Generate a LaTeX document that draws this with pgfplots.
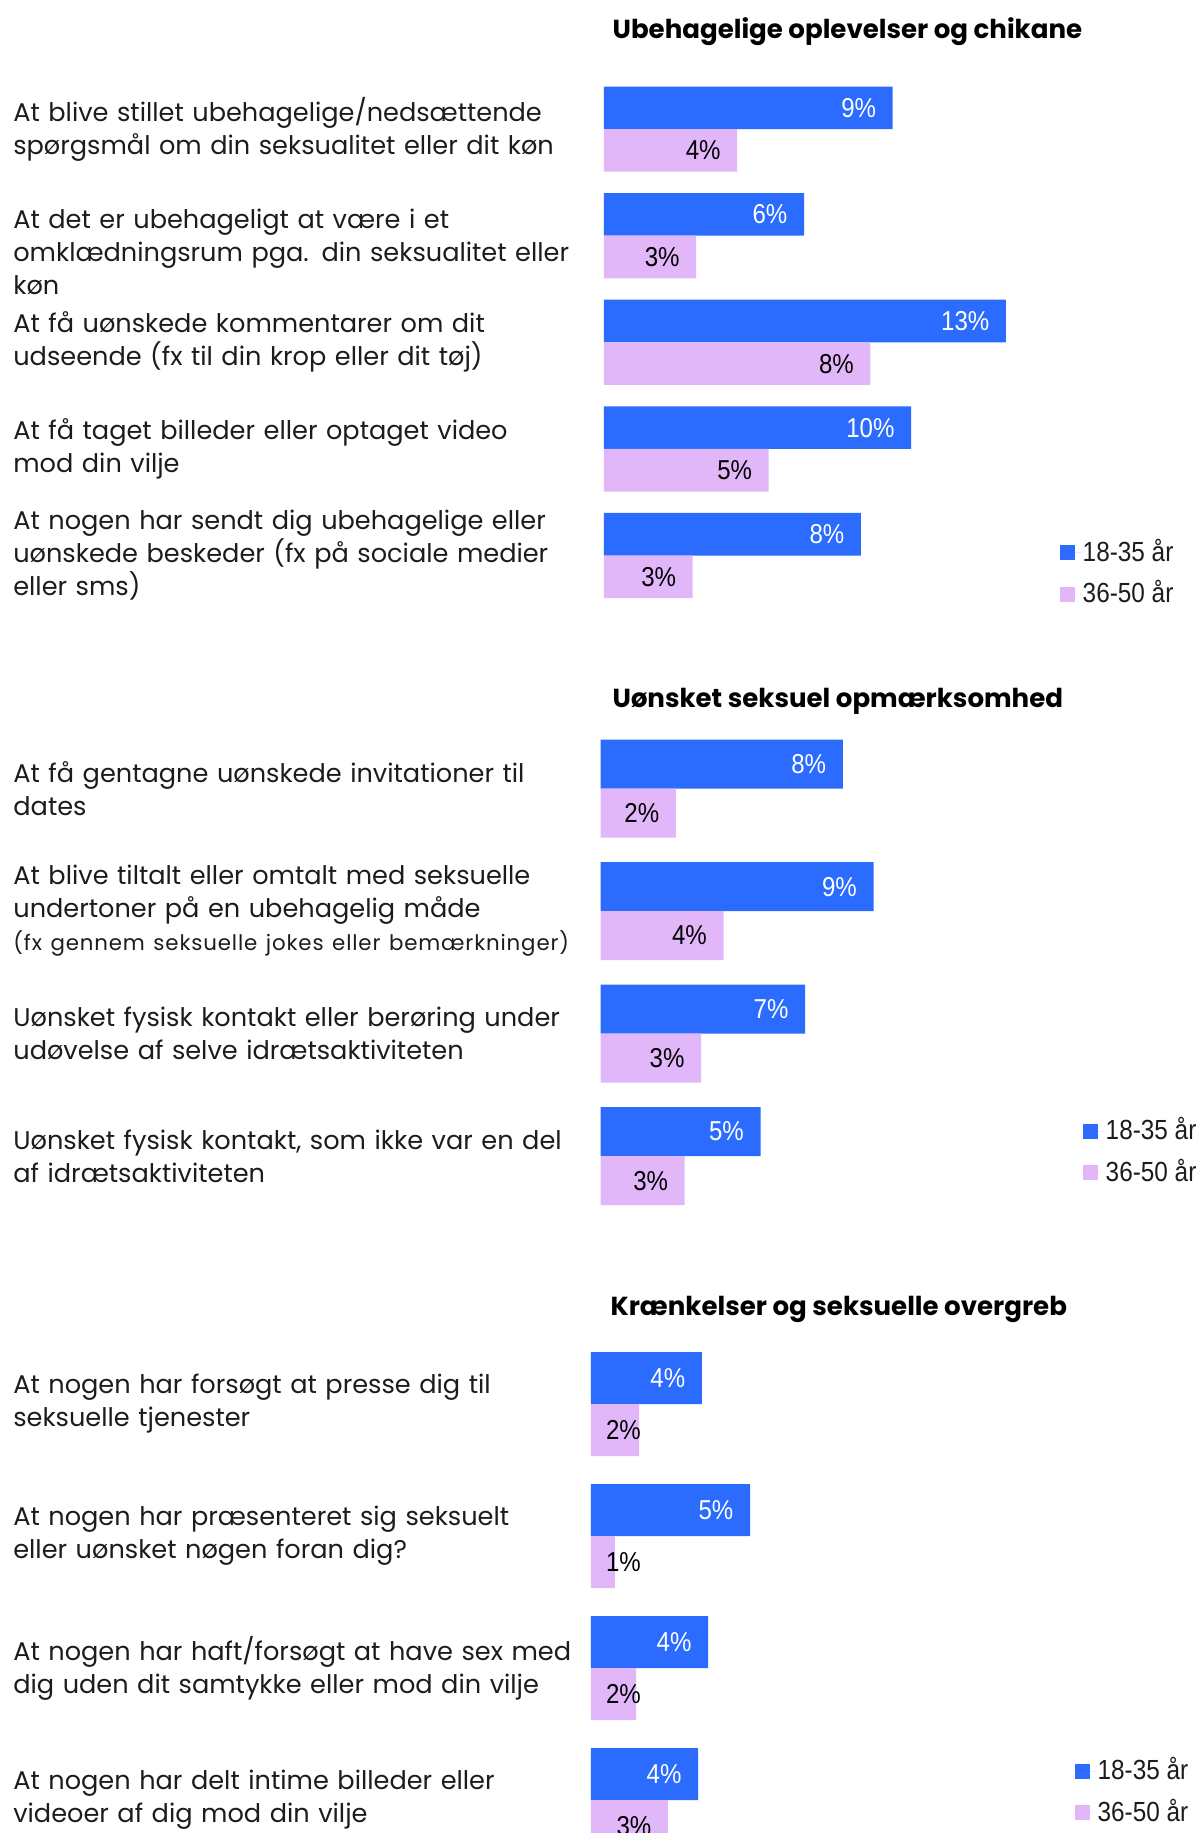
\documentclass[border=0pt]{standalone}
\usepackage{fontspec}
\setmainfont{Poppins}
\newfontfamily\numfont[FakeStretch=0.88]{Liberation Sans}
\usepackage{pgfplots}
\usepackage{pgfplotstable}
\pgfplotsset{compat=1.18}
\definecolor{cBlue}{RGB}{43,108,255}
\definecolor{cPink}{RGB}{226,183,250}
\definecolor{cText}{RGB}{28,28,28}

% panel data: y position, bar value, printed label
\pgfplotstableread{
y a la b lb
5 9.08 9 4.19 4
4 6.29 6 2.90 3
3 12.64 13 8.38 8
2 9.66 10 5.18 5
1 8.08 8 2.79 3
}\tabA
\pgfplotstableread{
y a la b lb
4 7.86 8 2.44 2
3 8.86 9 3.99 4
2 6.64 7 3.26 3
1 5.19 5 2.73 3
}\tabB
\pgfplotstableread{
y a la b lb
4 3.76 4 1.63 2
3 5.39 5 0.81 1
2 3.97 4 1.53 2
1 3.63 4 2.61 3
}\tabC

\pgfplotsset{
  panel/.style={
    xbar, scale only axis, anchor=north west,
    xmin=0, ymin=0.5, enlargelimits=false, clip=false,
    axis line style={draw=none}, tick style={draw=none}, major tick length=0pt,
    xtick=\empty,
    point meta=explicit symbolic,
    nodes near coords={\pgfplotspointmeta\%},
    every node near coord/.append style={font=\numfont\fontsize{8.2}{9.8}\selectfont, anchor=east, inner sep=0pt, xshift=-4.8pt},
    yticklabel style={font=\fontsize{7.68}{9.9}\selectfont, text=cText, align=left, inner sep=0pt},
    legend style={draw=none, fill=none, inner sep=0pt, row sep=4.3pt,
      font=\numfont\fontsize{8.3}{9}\selectfont, nodes={inner sep=0pt, text=cText}},
    legend cell align=left,
    legend image code/.code={\fill[##1] (0pt,-2.25pt) rectangle (4.5pt,2.25pt);
      \path (0pt,0pt) -- (6.9pt,0pt);},
  },
}

\begin{document}
\begin{tikzpicture}
\path[use as bounding box] (0pt,0pt) rectangle (360pt,-549.9pt);

\node[anchor=base west, inner sep=0pt, text=black, font=\bfseries\fontsize{7.82}{10}\selectfont] at (183.6pt,-11.5pt) {Ubehagelige oplevelser og chikane};
\node[anchor=base west, inner sep=0pt, text=black, font=\bfseries\fontsize{7.82}{10}\selectfont] at (183.6pt,-212.1pt) {Uønsket seksuel opmærksomhed};
\node[anchor=base west, inner sep=0pt, text=black, font=\bfseries\fontsize{7.82}{10}\selectfont] at (183pt,-394.6pt) {Krænkelser og seksuelle overgreb};

% Ubehagelige oplevelser og chikane
\begin{axis}[panel,
  at={(181.2pt,-22.74pt)}, width=171.72pt, height=159.9pt,
  xmax=18, ymax=5.5, bar width=12.78pt,
  ytick={1,2,3,4,5},
  yticklabels={
    {At nogen har sendt dig ubehagelige eller\\uønskede beskeder (fx på sociale medier\\eller sms)},
    {At få taget billeder eller optaget video\\mod din vilje},
    {At få uønskede kommentarer om dit\\udseende (fx til din krop eller dit tøj)},
    {\rule{0pt}{15.6pt}At det er ubehageligt at være i et\\omklædningsrum pga. din seksualitet eller\\køn},
    {At blive stillet ubehagelige/nedsættende\\spørgsmål om din seksualitet eller dit køn}},
  yticklabel style={text width=177pt},
  legend style={at={(0.795,0.0668)}, anchor=west},
]
\addplot[fill=cBlue, draw=none, bar shift=6.39pt, every node near coord/.append style={text=white}]
  table[x=a, y=y, meta=la] {\tabA};
\addplot[fill=cPink, draw=none, bar shift=-6.39pt, every node near coord/.append style={text=black}]
  table[x=b, y=y, meta=lb] {\tabA};
\legend{18-35 år, 36-50 år}
\end{axis}

% Uønsket seksuel opmærksomhed
\begin{axis}[panel,
  at={(180.2pt,-218.2pt)}, width=175.56pt, height=147pt,
  xmax=19, ymax=4.5, bar width=14.7pt,
  ytick={1,2,3,4},
  yticklabels={
    {Uønsket fysisk kontakt, som ikke var en del\\af idrætsaktiviteten},
    {Uønsket fysisk kontakt eller berøring under\\udøvelse af selve idrætsaktiviteten},
    {At blive tiltalt eller omtalt med seksuelle\\undertoner på en ubehagelig måde\\{\fontsize{6.4}{9.9}\selectfont\addfontfeature{LetterSpace=4}(fx gennem seksuelle jokes eller bemærkninger)}},
    {At få gentagne uønskede invitationer til\\dates}},
  yticklabel style={text width=175.98pt},
  legend style={at={(0.8226,0.1337)}, anchor=west},
]
\addplot[fill=cBlue, draw=none, bar shift=7.35pt, every node near coord/.append style={text=white}]
  table[x=a, y=y, meta=la] {\tabB};
\addplot[fill=cPink, draw=none, bar shift=-7.35pt, every node near coord/.append style={text=black}]
  table[x=b, y=y, meta=lb] {\tabB};
\legend{18-35 år, 36-50 år}
\end{axis}

% Krænkelser og seksuelle overgreb
\begin{axis}[panel,
  at={(177.3pt,-401.4pt)}, width=177pt, height=158.4pt,
  xmax=20, ymax=4.5, bar width=15.6pt,
  ytick={1,2,3,4},
  yticklabels={
    {At nogen har delt intime billeder eller\\videoer af dig mod din vilje},
    {At nogen har haft/forsøgt at have sex med\\dig uden dit samtykke eller mod din vilje},
    {At nogen har præsenteret sig seksuelt\\eller uønsket nøgen foran dig?},
    {At nogen har forsøgt at presse dig til\\seksuelle tjenester}},
  yticklabel style={text width=173.1pt},
  visualization depends on=rawx \as \rx,
  every node near coord/.append style={xshift={(max(0,2.254-\rx)*8.85)*1pt}},
  legend style={at={(0.8186,0.140)}, anchor=west},
]
\addplot[fill=cBlue, draw=none, bar shift=7.8pt, every node near coord/.append style={text=white}]
  table[x=a, y=y, meta=la] {\tabC};
\addplot[fill=cPink, draw=none, bar shift=-7.8pt, every node near coord/.append style={text=black}]
  table[x=b, y=y, meta=lb] {\tabC};
\legend{18-35 år, 36-50 år}
\end{axis}
\end{tikzpicture}
\end{document}
